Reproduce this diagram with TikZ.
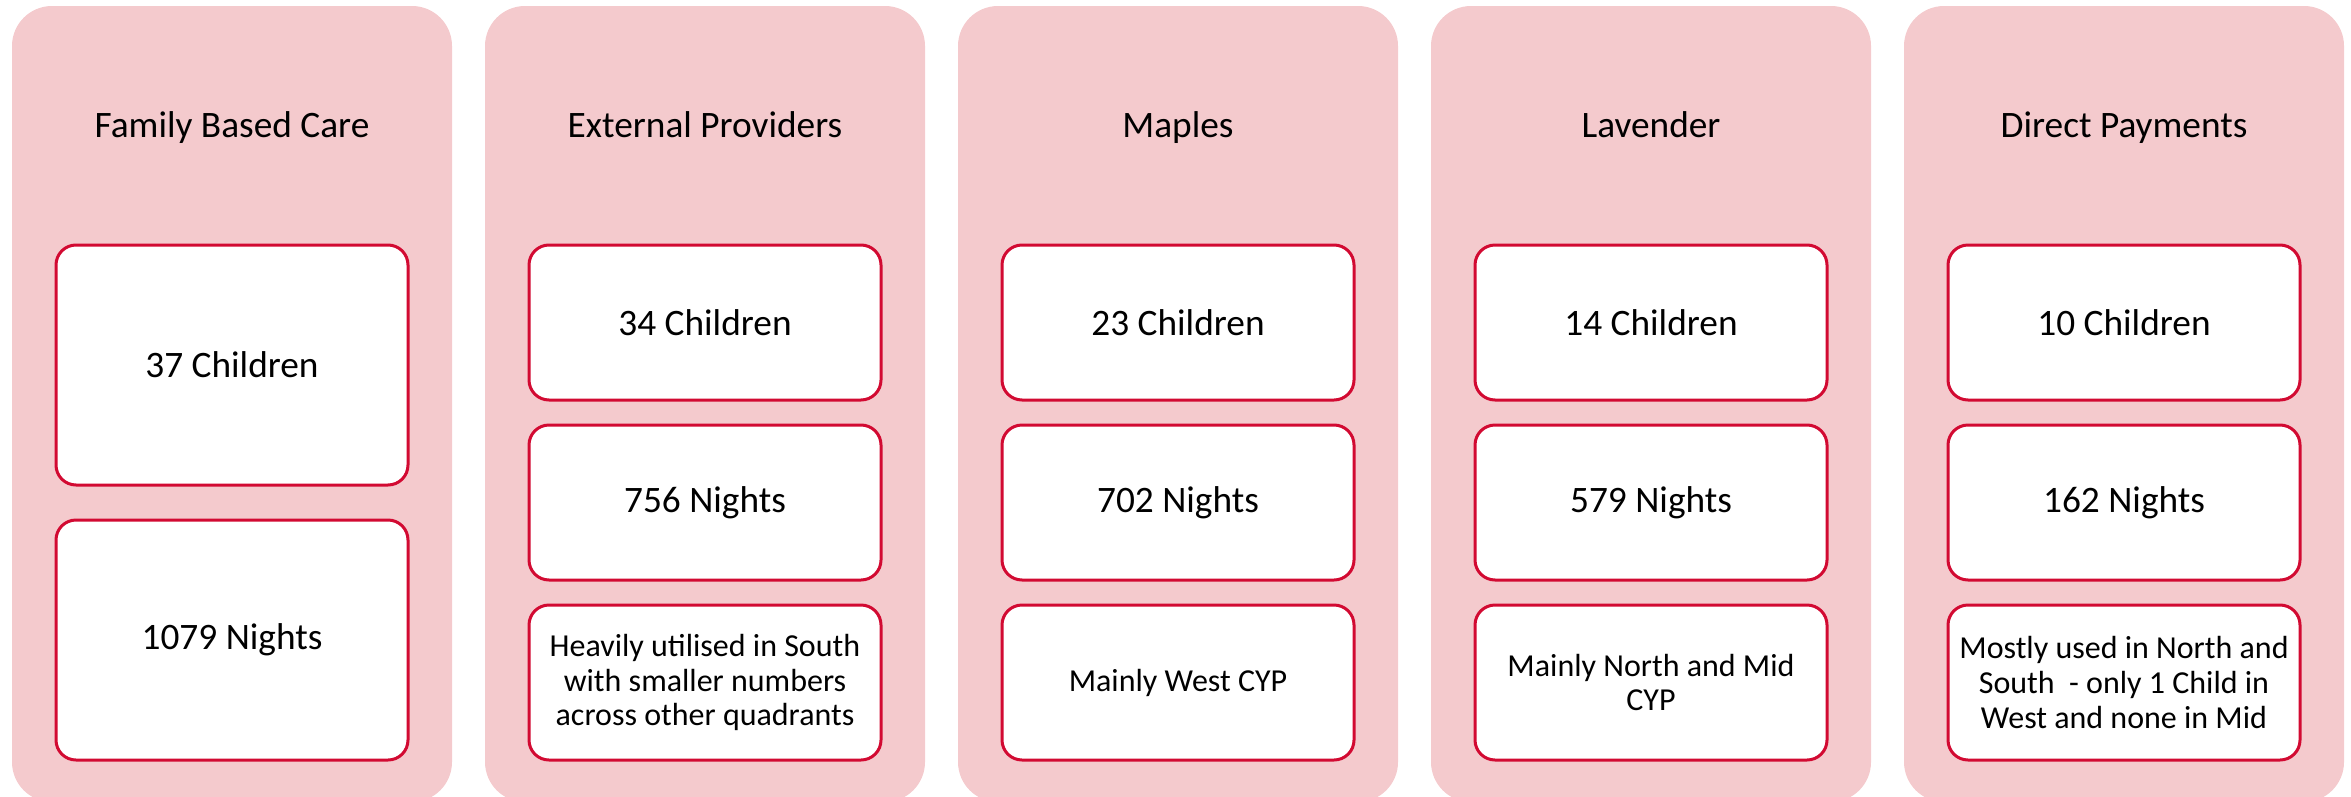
\documentclass[tikz,border=0pt]{standalone}
\usepackage{fontspec}
\setmainfont{Carlito}
\definecolor{pinkfill}{RGB}{244,202,205}
\definecolor{boxred}{RGB}{210,10,50}
\begin{document}
\begin{tikzpicture}[x=0.75pt,y=-0.75pt,
  panel/.style={fill=pinkfill, draw=none, rounded corners=30pt, minimum width=330pt, minimum height=597pt, inner sep=0pt, outer sep=0pt},
  cell/.style={fill=white, draw=boxred, line width=2.25pt, rounded corners=15pt, minimum width=264pt, inner sep=2pt, align=center, font=\fontsize{28}{34}\selectfont},
  bigcell/.style={cell, minimum height=180pt},
  smallcell/.style={cell, minimum height=116.25pt},
  notecell/.style={smallcell, font=\fontsize{24}{25.9}\selectfont},
  paneltitle/.style={font=\fontsize{28}{34}\selectfont, inner sep=0pt, anchor=base}]
\useasboundingbox (0,0) rectangle (2351,796);
\clip (0,0) rectangle (2351,796);
% panels
\node[panel] (p1) at (232,404) {};
\node[panel] (p2) at (705,404) {};
\node[panel] (p3) at (1178,404) {};
\node[panel] (p4) at (1651,404) {};
\node[panel] (p5) at (2124,404) {};
% titles
\node[paneltitle] (t1) at (232,137) {Family Based Care};
\node[paneltitle] (t2) at (705,137) {External Providers};
\node[paneltitle] (t3) at (1178,137) {Maples};
\node[paneltitle] (t4) at (1651,137) {Lavender};
\node[paneltitle] (t5) at (2124,137) {Direct Payments};
% column 1
\node[bigcell] (c1a) at (232,365) {37 Children};
\node[bigcell] (c1b) at (232,640) {1079 Nights};
% column 2
\node[smallcell] (c2a) at (705,322.5) {34 Children};
\node[smallcell] (c2b) at (705,502.5) {756 Nights};
\node[notecell] (c2c) at (705,682.5) {Heavily utilised in South\\with smaller numbers\\across other quadrants};
% column 3
\node[smallcell] (c3a) at (1178,322.5) {23 Children};
\node[smallcell] (c3b) at (1178,502.5) {702 Nights};
\node[notecell] (c3c) at (1178,682.5) {Mainly West CYP};
% column 4
\node[smallcell] (c4a) at (1651,322.5) {14 Children};
\node[smallcell] (c4b) at (1651,502.5) {579 Nights};
\node[notecell] (c4c) at (1651,682.5) {Mainly North and Mid\\CYP};
% column 5
\node[smallcell] (c5a) at (2124,322.5) {10 Children};
\node[smallcell] (c5b) at (2124,502.5) {162 Nights};
\node[notecell] (c5c) at (2124,682.5) {Mostly used in North and\\South\ \ - only 1 Child in\\West and none in Mid};
\end{tikzpicture}
\end{document}
